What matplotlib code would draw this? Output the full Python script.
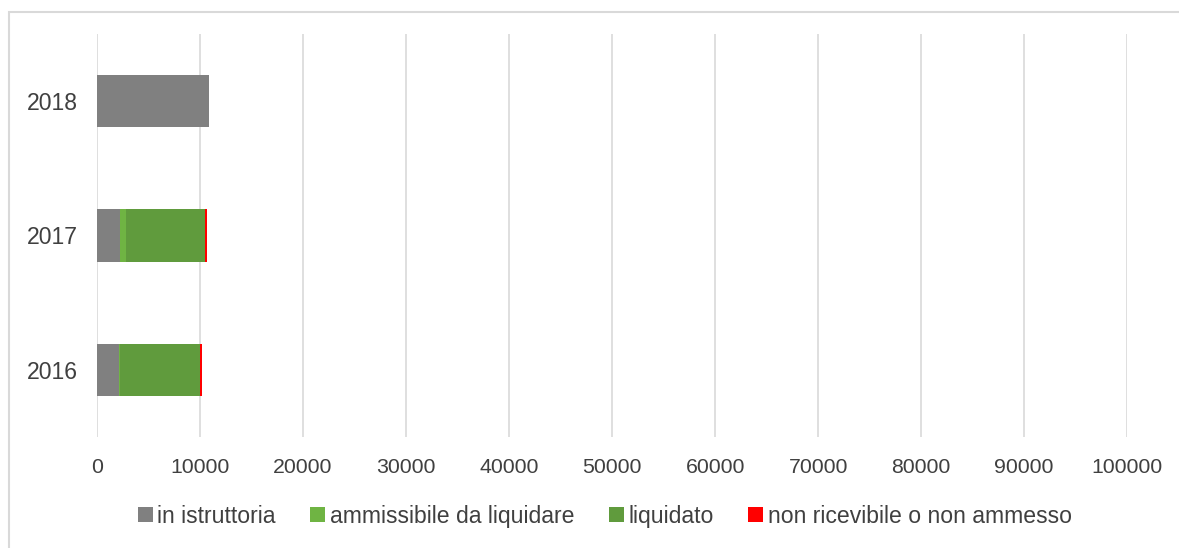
import matplotlib.pyplot as plt
from matplotlib.patches import Rectangle
import numpy as np

# dati
anni = ['2016', '2017', '2018']
in_istruttoria = [2110, 2270, 10840]
ammissibile = [100, 520, 0]
liquidato = [7760, 7670, 0]
non_ricevibile = [220, 220, 0]

serie = [
    ('in istruttoria', in_istruttoria, '#808080'),
    ('ammissibile da liquidare', ammissibile, '#6FB443'),
    ('liquidato', liquidato, '#609B3D'),
    ('non ricevibile o non ammesso', non_ricevibile, '#FF0000'),
]

plt.rcParams['font.family'] = ['Liberation Sans', 'DejaVu Sans']

fig = plt.figure(figsize=(11.79, 5.48), dpi=100)
ax = fig.add_axes([0.0823, 0.2026, 0.8737, 0.7354])

y = np.arange(len(anni))
left = np.zeros(len(anni))
for nome, valori, colore in serie:
    ax.barh(y, valori, left=left, height=0.39, color=colore, label=nome, zorder=3)
    left += np.array(valori)

ax.set_xlim(0, 100000)
ax.set_ylim(-0.5, 2.5)
ax.set_xticks(np.arange(0, 100001, 10000))
ax.set_yticks(y)
ax.set_yticklabels(anni)
ax.xaxis.grid(True, color='#D9D9D9', linewidth=1.2, zorder=0)
for s in ax.spines.values():
    s.set_visible(False)
ax.tick_params(axis='both', length=0, colors='#404040')
ax.tick_params(axis='x', pad=15, labelsize=15.3)
ax.tick_params(axis='y', pad=14, labelsize=16.6)

# cornice esterna
fig.patches.append(Rectangle((9 / 1179, -0.1), 1.2, 1 - 12 / 548 + 0.1, transform=fig.transFigure,
                             fill=False, edgecolor='#D9D9D9', linewidth=1.5))

leg = fig.legend(loc='center', bbox_to_anchor=(0.513, 0.058), ncol=4, frameon=False,
                 fontsize=16.6, handlelength=0.65, handleheight=0.65, handletextpad=0.2,
                 columnspacing=1.5, labelcolor='#404040')

fig.savefig('out.png', dpi=100)
